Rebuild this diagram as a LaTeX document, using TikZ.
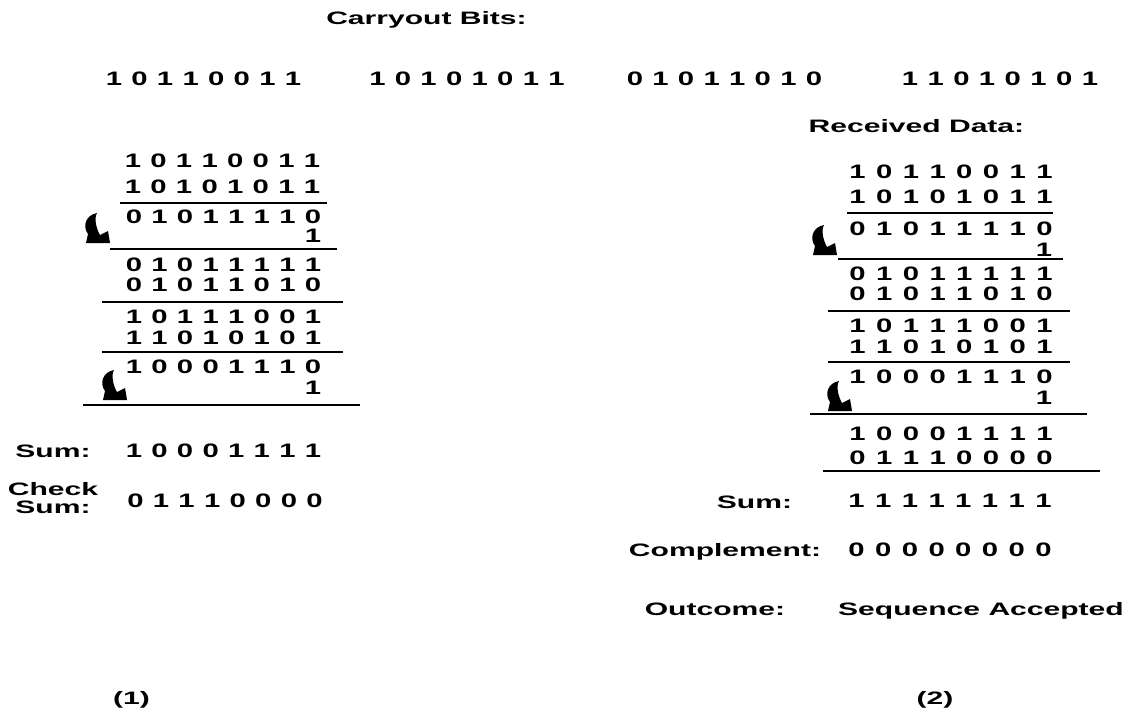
\documentclass[tikz,border=0pt]{standalone}
\usepackage{fontspec}
\newfontfamily\widesans{Liberation Sans}[FakeStretch=1.67]
\newfontfamily\digitsans{Liberation Sans}[FakeStretch=1.5]
\newlength\bitw
\def\bitsx#1{\ifx#1\relax\else\makebox[\bitw]{#1}\expandafter\bitsx\fi}
\newcommand\bits[2]{\setlength\bitw{#1pt}\bitsx#2\relax}
\tikzset{
  txt/.style={inner sep=0pt, font=\widesans\bfseries\fontsize{18}{20}\selectfont},
  word/.style={txt, anchor=base},
  bitrow/.style={inner sep=0pt, anchor=center, font=\digitsans\bfseries\fontsize{19.5}{22}\selectfont},
  rule/.style={line width=2pt},
  carry/.pic={
    \fill (12,0) .. controls (1,2) and (-3,13) .. (3,21) -- (1,30) -- (25,30) -- (23,18) -- (15,22)
      .. controls (11,15) and (9,5) .. (12,0) -- cycle;
  }
}
\begin{document}
\begin{tikzpicture}[x=1pt,y=-1pt]
\useasboundingbox (0,0) rectangle (1133,712);
% header
\node[word] (title) at (426.5,24) {Carryout Bits:};
\node[bitrow] (c1) at (203.5,79) {\bits{25.6}{10110011}};
\node[bitrow] (c2) at (467,79) {\bits{25.6}{10101011}};
\node[bitrow] (c3) at (724.5,79) {\bits{25.6}{01011010}};
\node[bitrow] (c4) at (1000,79) {\bits{25.7}{11010101}};
% left block
\node[bitrow] (l1) at (222.5,161) {\bits{25.6}{10110011}};
\node[bitrow] (l2) at (222.5,187) {\bits{25.6}{10101011}};
\draw[rule] (120,203) -- (327,203);
\node[bitrow] (l3) at (223.5,217) {\bits{25.6}{01011110}};
\node[bitrow] (l3c) at (313,236) {1};
\pic at (85,213) {carry};
\draw[rule] (110,249) -- (337,249);
\node[bitrow] (l4) at (223.5,265) {\bits{25.6}{01011111}};
\node[bitrow] (l5) at (223.5,285) {\bits{25.6}{01011010}};
\draw[rule] (102,302) -- (343,302);
\node[bitrow] (l6) at (223.5,317) {\bits{25.6}{10111001}};
\node[bitrow] (l7) at (223.5,338) {\bits{25.6}{11010101}};
\draw[rule] (102,352) -- (343,352);
\node[bitrow] (l8) at (223.5,367) {\bits{25.6}{10001110}};
\node[bitrow] (l8c) at (313,388) {1};
\pic at (102,370) {carry};
\draw[rule] (83,405) -- (360,405);
\node[word] (lsum) at (53,457) {Sum:};
\node[bitrow] (lsumv) at (223.5,451) {\bits{25.6}{10001111}};
\node[word] (lchk1) at (53,495) {Check};
\node[word] (lchk2) at (53,513) {Sum:};
\node[bitrow] (lchkv) at (225,501) {\bits{25.6}{01110000}};
\node[word] (lab1) at (131.5,704) {(1)};
% right block
\node[word] (recv) at (916.5,132) {Received Data:};
\node[bitrow] (r1) at (951,172) {\bits{26.7}{10110011}};
\node[bitrow] (r2) at (951,197) {\bits{26.7}{10101011}};
\draw[rule] (847,213) -- (1053,213);
\node[bitrow] (r3) at (951,229) {\bits{26.7}{01011110}};
\node[bitrow] (r3c) at (1044,250) {1};
\pic at (812,225) {carry};
\draw[rule] (838,259) -- (1063,259);
\node[bitrow] (r4) at (951,274) {\bits{26.7}{01011111}};
\node[bitrow] (r5) at (951,294) {\bits{26.7}{01011010}};
\draw[rule] (828,311) -- (1070,311);
\node[bitrow] (r6) at (951,326) {\bits{26.7}{10111001}};
\node[bitrow] (r7) at (951,347) {\bits{26.7}{11010101}};
\draw[rule] (828,362) -- (1070,362);
\node[bitrow] (r8) at (951,377) {\bits{26.7}{10001110}};
\node[bitrow] (r8c) at (1044,398) {1};
\pic at (827,381) {carry};
\draw[rule] (810,414) -- (1087,414);
\node[bitrow] (r9) at (951,434) {\bits{26.7}{10001111}};
\node[bitrow] (r10) at (951,458) {\bits{26.7}{01110000}};
\draw[rule] (823,471) -- (1100,471);
\node[word] (rsum) at (754.5,508) {Sum:};
\node[bitrow] (rsumv) at (950,501) {\bits{26.7}{11111111}};
\node[word] (rcomp) at (725,556) {Complement:};
\node[bitrow] (rcompv) at (950,550) {\bits{26.7}{00000000}};
\node[word] (rout) at (715,615) {Outcome:};
\node[word] (routv) at (981,615) {Sequence Accepted};
\node[word] (lab2) at (935,704) {(2)};
\end{tikzpicture}
\end{document}
